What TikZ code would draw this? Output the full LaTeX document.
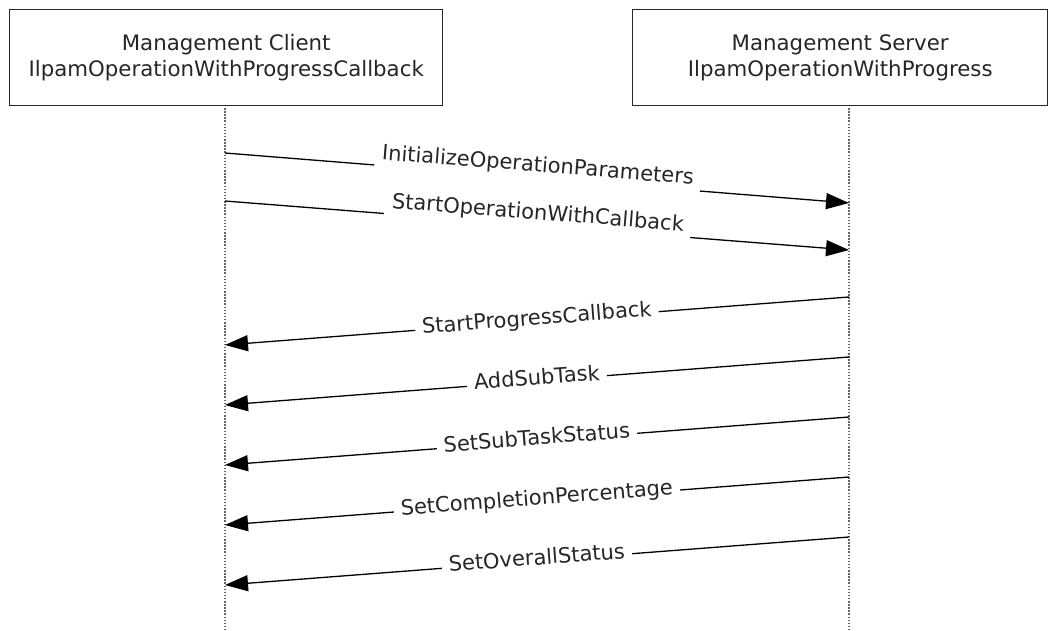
\documentclass[tikz,border=0pt]{standalone}
\usepackage{fontspec}
\setmainfont{DejaVu Sans}
\usetikzlibrary{arrows.meta}
\begin{document}
\begin{tikzpicture}[x=1pt,y=-1pt,
  actor/.style={draw=black!85,line width=1.4pt,fill=white,minimum width=433pt,minimum height=96pt,anchor=north west,align=center,inner sep=0pt,font=\fontsize{21.3}{26}\selectfont,text=black!85},
  life/.style={draw=black!60,line width=1.3pt,dash pattern=on 1.5pt off 1.6pt},
  msg/.style={draw=black,line width=1.3pt,-{Triangle[length=23pt,width=16pt]}},
  lbl/.style={fill=white,sloped,midway,inner xsep=7pt,inner ysep=0pt,text height=16pt,text depth=28pt,font=\fontsize{21}{25}\selectfont,text=black!85},
  lblback/.style={lbl,text depth=8pt}]
\useasboundingbox (0,0) rectangle (1055,631);
\fill[white] (0,0) rectangle (1055,631);
% lifelines
\coordinate (ct) at (225,105);
\coordinate (cb) at (225,631);
\coordinate (st) at (849,105);
\coordinate (sb) at (849,631);
\draw[life] (ct) -- (cb);
\draw[life] (st) -- (sb);
% actors
\node[actor] (cl) at (9,9) {Management Client\\IlpamOperationWithProgressCallback};
\node[actor,minimum width=415pt] (sv) at (632,9) {Management Server\\IlpamOperationWithProgress};
% message endpoints
\coordinate (c1) at (225,153); \coordinate (s1) at (849,203);
\coordinate (c2) at (225,201); \coordinate (s2) at (849,250);
\coordinate (s3) at (849,297); \coordinate (c3) at (225,345);
\coordinate (s4) at (849,357); \coordinate (c4) at (225,405);
\coordinate (s5) at (849,417); \coordinate (c5) at (225,465);
\coordinate (s6) at (849,477); \coordinate (c6) at (225,525);
\coordinate (s7) at (849,537); \coordinate (c7) at (225,585);
% messages
\draw[msg] (c1) -- node[lbl] (m1) {InitializeOperationParameters} (s1);
\draw[msg] (c2) -- node[lbl] (m2) {StartOperationWithCallback} (s2);
\draw[msg] (s3) -- node[lblback] (m3) {StartProgressCallback} (c3);
\draw[msg] (s4) -- node[lblback] (m4) {AddSubTask} (c4);
\draw[msg] (s5) -- node[lblback] (m5) {SetSubTaskStatus} (c5);
\draw[msg] (s6) -- node[lblback] (m6) {SetCompletionPercentage} (c6);
\draw[msg] (s7) -- node[lblback] (m7) {SetOverallStatus} (c7);
\end{tikzpicture}
\end{document}
